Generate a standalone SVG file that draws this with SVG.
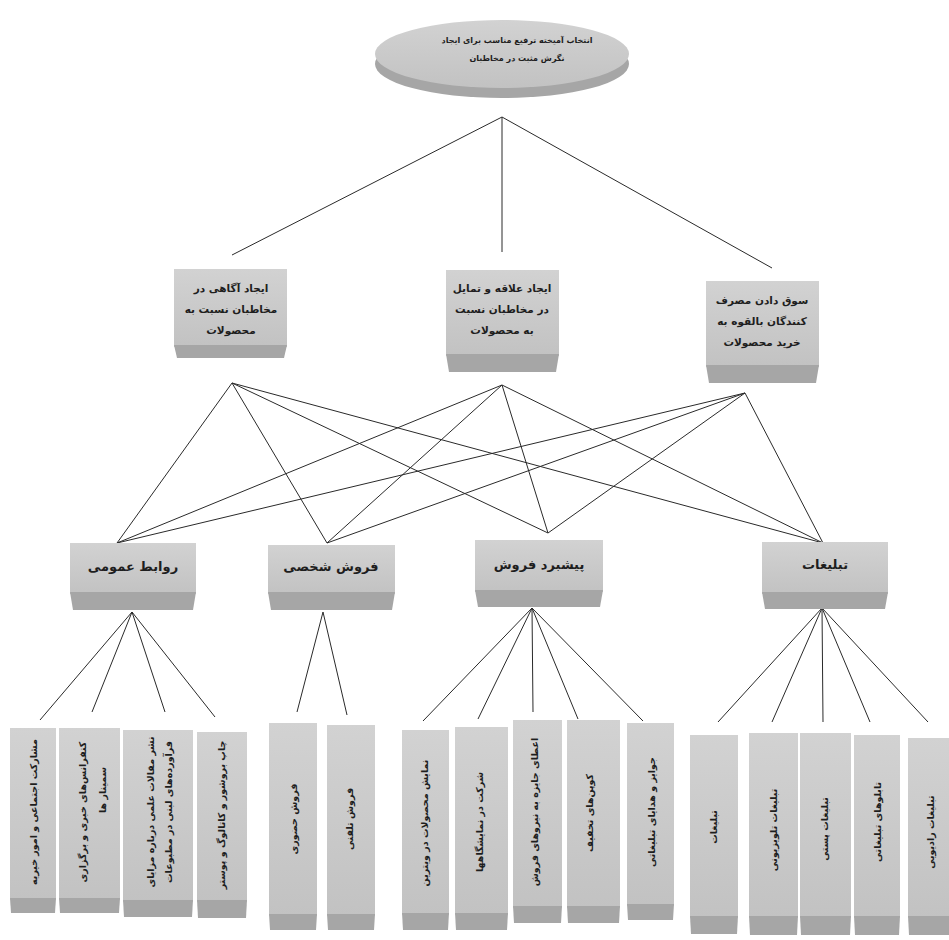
<svg xmlns="http://www.w3.org/2000/svg" width="949" height="940" viewBox="0 0 949 940">
<style>
.face{fill:#c9c9c9;}
.band{fill:#a6a6a6;}
.ln{stroke:#2a2a2a;stroke-width:1;fill:none;}
text{font-family:"DejaVu Sans","Noto Sans",sans-serif;fill:#1e1e1e;direction:rtl;}
.t1{font-size:8px;font-weight:bold;}
.t2{font-size:10.5px;font-weight:bold;}
.t3{font-size:13px;font-weight:bold;}
.t4{font-size:9.5px;font-weight:bold;}
</style>
<defs>
<linearGradient id="g" x1="0" y1="0" x2="0" y2="1">
<stop offset="0" stop-color="#d2d2d2"/>
<stop offset="1" stop-color="#c2c2c2"/>
</linearGradient>
</defs>
<rect width="949" height="940" fill="#ffffff"/>

<g id="connectors">
<path class="ln" d="M502 117 L232 255 M502 117 L502 252 M502 117 L772 268"/>
<path class="ln" d="M232 383 L117 543 M232 383 L327 543 M232 383 L548 533 M232 383 L823 543"/>
<path class="ln" d="M502 385 L117 543 M502 385 L327 543 M502 385 L548 533 M502 385 L823 543"/>
<path class="ln" d="M745 393 L117 543 M745 393 L327 543 M745 393 L548 533 M745 393 L823 543"/>
<path class="ln" d="M132 612 L40 720 M132 612 L92 712 M132 612 L165 712 M132 612 L215 717"/>
<path class="ln" d="M323 612 L297 712 M323 612 L347 715"/>
<path class="ln" d="M532 608 L423 721 M532 608 L478 719 M532 608 L533 712 M532 608 L578 719 M532 608 L643 721"/>
<path class="ln" d="M822 608 L718 722 M822 608 L772 722 M822 608 L823 722 M822 608 L870 722 M822 608 L928 722"/>
</g>

<g id="root">
<ellipse cx="502" cy="64" rx="127" ry="34" class="band"/>
<ellipse cx="502" cy="54" rx="127" ry="34" fill="url(#g)"/>
<text class="t1" x="517" y="43" text-anchor="middle">انتخاب آمیخته ترفیع مناسب برای ایجاد</text>
<text class="t1" x="517" y="61" text-anchor="middle">نگرش مثبت در مخاطبان</text>
</g>

<g id="goal-awareness">
<rect x="174" y="269" width="113" height="78" fill="url(#g)"/>
<polygon class="band" points="174,345 287,345 284,358 177,358"/>
<text class="t2" x="231" y="292" text-anchor="middle">ایجاد آگاهی در</text>
<text class="t2" x="231" y="313" text-anchor="middle">مخاطبان نسبت به</text>
<text class="t2" x="231" y="334" text-anchor="middle">محصولات</text>
</g>

<g id="goal-interest">
<rect x="446" y="270" width="113" height="86" fill="url(#g)"/>
<polygon class="band" points="446,354 559,354 556,372 449,372"/>
<text class="t2" x="502" y="292" text-anchor="middle">ایجاد علاقه و تمایل</text>
<text class="t2" x="502" y="313" text-anchor="middle">در مخاطبان نسبت</text>
<text class="t2" x="502" y="334" text-anchor="middle">به محصولات</text>
</g>

<g id="goal-purchase">
<rect x="706" y="281" width="113" height="86" fill="url(#g)"/>
<polygon class="band" points="706,365 819,365 816,383 709,383"/>
<text class="t2" x="762" y="304" text-anchor="middle">سوق دادن مصرف</text>
<text class="t2" x="762" y="325" text-anchor="middle">کنندگان بالقوه به</text>
<text class="t2" x="762" y="346" text-anchor="middle">خرید محصولات</text>
</g>

<g id="pr">
<rect x="70" y="543" width="126" height="51" fill="url(#g)"/>
<polygon class="band" points="70,592 196,592 193,610 73,610"/>
<text class="t3" x="133" y="571" text-anchor="middle">روابط عمومی</text>
</g>

<g id="personal-selling">
<rect x="268" y="545" width="127" height="49" fill="url(#g)"/>
<polygon class="band" points="268,592 395,592 392,610 271,610"/>
<text class="t3" x="331" y="571" text-anchor="middle">فروش شخصی</text>
</g>

<g id="sales-promotion">
<rect x="475" y="540" width="128" height="52" fill="url(#g)"/>
<polygon class="band" points="475,590 603,590 600,607 478,607"/>
<text class="t3" x="539" y="569" text-anchor="middle">پیشبرد فروش</text>
</g>

<g id="advertising">
<rect x="762" y="542" width="126" height="52" fill="url(#g)"/>
<polygon class="band" points="762,592 888,592 885,609 765,609"/>
<text class="t3" x="825" y="569" text-anchor="middle">تبلیغات</text>
</g>

<g id="pr-1">
<rect x="10" y="728" width="46" height="172" fill="url(#g)"/>
<polygon class="band" points="10,898 56,898 55,913 11,913"/>
<text class="t4" transform="translate(33 812) rotate(-90)" text-anchor="middle" dy="4">مشارکت اجتماعی و امور خیریه</text>
</g>
<g id="pr-2">
<rect x="59" y="728" width="61" height="172" fill="url(#g)"/>
<polygon class="band" points="59,898 120,898 119,913 60,913"/>
<text class="t4" transform="translate(82 812) rotate(-90)" text-anchor="middle" dy="4">کنفرانس‌های خبری و برگزاری</text>
<text class="t4" transform="translate(102 790) rotate(-90)" text-anchor="middle" dy="4">سمینار ها</text>
</g>
<g id="pr-3">
<rect x="123" y="730" width="70" height="172" fill="url(#g)"/>
<polygon class="band" points="123,900 193,900 192,917 124,917"/>
<text class="t4" transform="translate(150 812) rotate(-90)" text-anchor="middle" dy="4">نشر مقالات علمی درباره مزایای</text>
<text class="t4" transform="translate(168 812) rotate(-90)" text-anchor="middle" dy="4">فرآورده‌های لبنی در مطبوعات</text>
</g>
<g id="pr-4">
<rect x="197" y="732" width="50" height="170" fill="url(#g)"/>
<polygon class="band" points="197,900 247,900 246,918 198,918"/>
<text class="t4" transform="translate(221 815) rotate(-90)" text-anchor="middle" dy="4">چاپ بروشور و کاتالوگ و پوستر</text>
</g>

<g id="ps-1">
<rect x="269" y="723" width="48" height="193" fill="url(#g)"/>
<polygon class="band" points="269,914 317,914 316,930 270,930"/>
<text class="t4" transform="translate(293 819) rotate(-90)" text-anchor="middle" dy="4">فروش حضوری</text>
</g>
<g id="ps-2">
<rect x="327" y="725" width="48" height="191" fill="url(#g)"/>
<polygon class="band" points="327,914 375,914 374,930 328,930"/>
<text class="t4" transform="translate(349 819) rotate(-90)" text-anchor="middle" dy="4">فروش تلفنی</text>
</g>

<g id="sp-1">
<rect x="402" y="730" width="47" height="185" fill="url(#g)"/>
<polygon class="band" points="402,913 449,913 448,930 403,930"/>
<text class="t4" transform="translate(424 823) rotate(-90)" text-anchor="middle" dy="4">نمایش محصولات در ویترین</text>
</g>
<g id="sp-2">
<rect x="455" y="727" width="53" height="188" fill="url(#g)"/>
<polygon class="band" points="455,913 508,913 507,930 456,930"/>
<text class="t4" transform="translate(479 822) rotate(-90)" text-anchor="middle" dy="4">شرکت در نمایشگاهها</text>
</g>
<g id="sp-3">
<rect x="513" y="720" width="49" height="188" fill="url(#g)"/>
<polygon class="band" points="513,906 562,906 561,923 514,923"/>
<text class="t4" transform="translate(534 812) rotate(-90)" text-anchor="middle" dy="4">اعطای جایزه به نیروهای فروش</text>
</g>
<g id="sp-4">
<rect x="567" y="720" width="53" height="188" fill="url(#g)"/>
<polygon class="band" points="567,906 620,906 619,923 568,923"/>
<text class="t4" transform="translate(589 813) rotate(-90)" text-anchor="middle" dy="4">کوپن‌های تخفیف</text>
</g>
<g id="sp-5">
<rect x="627" y="723" width="47" height="183" fill="url(#g)"/>
<polygon class="band" points="627,904 674,904 673,920 628,920"/>
<text class="t4" transform="translate(651 812) rotate(-90)" text-anchor="middle" dy="4">جوایز و هدایای تبلیغاتی</text>
</g>

<g id="ad-1">
<rect x="690" y="735" width="48" height="183" fill="url(#g)"/>
<polygon class="band" points="690,916 738,916 737,934 691,934"/>
<text class="t4" transform="translate(713 827) rotate(-90)" text-anchor="middle" dy="4">تبلیغات</text>
</g>
<g id="ad-2">
<rect x="749" y="733" width="49" height="185" fill="url(#g)"/>
<polygon class="band" points="749,916 798,916 797,935 750,935"/>
<text class="t4" transform="translate(773 830) rotate(-90)" text-anchor="middle" dy="4">تبلیغات تلویزیونی</text>
</g>
<g id="ad-3">
<rect x="800" y="733" width="51" height="185" fill="url(#g)"/>
<polygon class="band" points="800,916 851,916 850,935 801,935"/>
<text class="t4" transform="translate(824 829) rotate(-90)" text-anchor="middle" dy="4">تبلیغات پستی</text>
</g>
<g id="ad-4">
<rect x="854" y="735" width="46" height="183" fill="url(#g)"/>
<polygon class="band" points="854,916 900,916 899,935 855,935"/>
<text class="t4" transform="translate(877 822) rotate(-90)" text-anchor="middle" dy="4">تابلوهای تبلیغاتی</text>
</g>
<g id="ad-5">
<rect x="908" y="738" width="41" height="180" fill="url(#g)"/>
<polygon class="band" points="908,916 949,916 949,935 909,935"/>
<text class="t4" transform="translate(930 832) rotate(-90)" text-anchor="middle" dy="4">تبلیغات رادیویی</text>
</g>
</svg>
